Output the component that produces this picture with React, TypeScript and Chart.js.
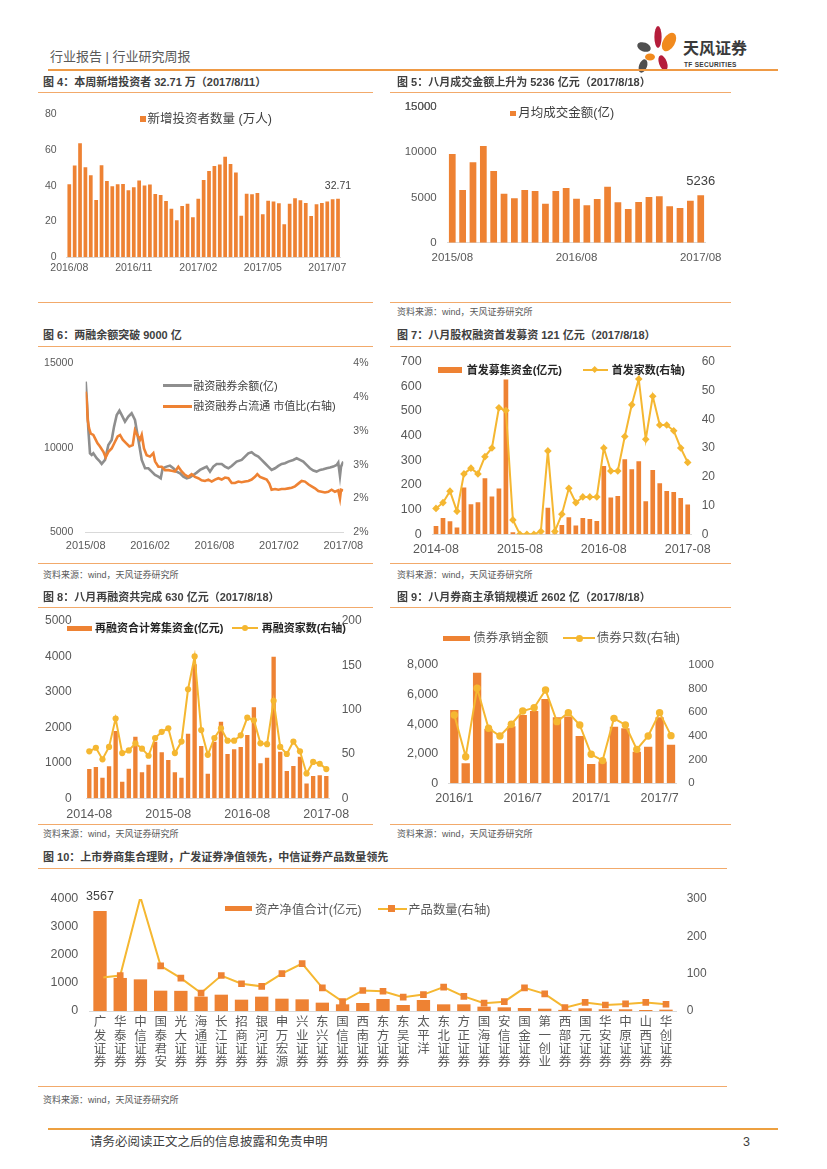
import React, { useEffect, useRef } from 'react';
import { Chart, registerables } from 'chart.js';

Chart.register(...registerables);

const FONT = "'Liberation Sans', Arial, 'Noto Sans CJK SC', sans-serif";
const BAR_COLOR = '#EE8233';
const LINE_COLOR = '#F5B731';
const GRAY_LINE = '#8E8E8E';
const TICK_COLOR = '#595959';
const AXIS_COLOR = '#D9D9D9';
const RULE_COLOR = '#F2AA6B';

// ---------------- helpers for category labels ----------------
function monthLabels(y0: number, m0: number, n: number, sep: string, pad: boolean): string[] {
  const out: string[] = [];
  for (let i = 0; i < n; i++) {
    const m = ((m0 - 1 + i) % 12) + 1;
    const y = y0 + Math.floor((m0 - 1 + i) / 12);
    out.push(`${y}${sep}${pad ? String(m).padStart(2, '0') : m}`);
  }
  return out;
}
function weekLabels(start: string, n: number): string[] {
  const out: string[] = [];
  const d0 = new Date(start + 'T00:00:00Z').getTime();
  for (let i = 0; i < n; i++) {
    const d = new Date(d0 + i * 7 * 86400000);
    out.push(`${d.getUTCFullYear()}/${String(d.getUTCMonth() + 1).padStart(2, '0')}/${String(d.getUTCDate()).padStart(2, '0')}`);
  }
  return out;
}

// ---------------- Fig 4 data ----------------
const fig4Weeks = weekLabels('2016-08-26', 51);
const fig4Investors = [
  40.9, 51.3, 63.8, 50.4, 45.9, 32.1, 51.5, 42.7, 39.7, 40.9, 41.0, 37.5, 39.2, 42.9, 40.1, 40.7, 35.4,
  34.9, 31.5, 27.2, 20.7, 28.7, 29.9, 22.4, 32.8, 43.3, 48.3, 51.1, 51.9, 56.2, 52.2, 47.4, 23.3, 35.6,
  35.3, 36.0, 24.1, 31.7, 31.2, 30.2, 18.5, 29.9, 33.0, 31.9, 30.4, 23.1, 29.7, 30.4, 31.2, 32.5, 32.71,
];
const fig4TickIdx = [0, 12, 24, 36, 48];
const fig4TickLabels = ['2016/08', '2016/11', '2017/02', '2017/05', '2017/07'];

// ---------------- Fig 5 data ----------------
const fig5Months = monthLabels(2015, 8, 25, '/', true);
const fig5Turnover = [
  9780, 5810, 8860, 10660, 7900, 5400, 4890, 5810, 5700, 4300, 5700, 6030, 4850, 4120, 4820, 6180, 4450,
  3710, 4490, 5040, 5110, 4010, 3820, 4630, 5236,
];
const fig5TickLabels = ['2015/08', '2016/08', '2017/08'];
const fig5YTicks = [0, 5000, 10000, 15000];

// ---------------- Fig 6 data (x = months since 2015/08) ----------------
const fig6TickLabels = ['2015/08', '2016/02', '2016/08', '2017/02', '2017/08'];
const fig6BalanceT = [
  0, 0.09, 0.25, 0.4, 0.56, 0.71, 1.02, 1.33, 1.49, 1.8, 2.11, 2.42, 2.64, 2.89, 3.14, 3.35, 3.66, 3.97,
  4.28, 4.59, 4.91, 5.22, 5.53, 5.84, 6.15, 6.46, 6.77, 6.99, 7.17, 7.54, 7.85, 8.17, 8.48, 8.79, 9.1,
  9.41, 9.72, 10.03, 10.34, 10.65, 10.96, 11.27, 11.58, 11.89, 12.2, 12.67, 12.98, 13.29, 13.6, 14.06,
  14.53, 14.84, 15.15, 15.46, 15.77, 16.08, 16.39, 16.7, 17.01, 17.32, 17.64, 17.95, 18.26, 18.57, 18.88,
  19.34, 19.65, 19.96, 20.27, 20.58, 20.89, 21.21, 21.51, 21.83, 22.14, 22.45, 22.76, 23.07, 23.38, 23.53,
  23.69, 23.79, 24.0,
];
const fig6Balance = [
  13915, 13028, 11055, 9675, 9576, 9675, 9380, 9183, 9045, 9281, 10168, 10464, 11252, 11943, 12200, 11943,
  11550, 11845, 12042, 11647, 10464, 9281, 8789, 8789, 8590, 8394, 8295, 8197, 8789, 8887, 8946, 8789, 8590,
  8492, 8295, 8197, 8256, 8394, 8532, 8690, 8789, 8887, 8590, 8887, 9045, 9045, 8887, 8789, 8926, 9183, 9281,
  9478, 9675, 9734, 9576, 9478, 9281, 9084, 8887, 8690, 8789, 8926, 9045, 9084, 9183, 9281, 9380, 9281, 9183,
  8985, 8789, 8651, 8591, 8690, 8729, 8789, 8828, 8887, 8985, 9124, 8335, 8887, 9183,
];
const fig6RatioT = [
  0, 0.09, 0.19, 0.31, 0.47, 0.71, 0.87, 1.09, 1.33, 1.65, 1.86, 2.11, 2.42, 2.73, 2.98, 3.2, 3.45, 3.76,
  4.07, 4.38, 4.59, 4.81, 5.06, 5.22, 5.43, 5.68, 5.99, 6.3, 6.46, 6.77, 7.08, 7.39, 7.7, 8.01, 8.32, 8.63,
  8.94, 9.25, 9.56, 9.87, 10.18, 10.49, 10.8, 11.11, 11.43, 11.74, 12.05, 12.36, 12.67, 12.98, 13.29, 13.6,
  13.91, 14.22, 14.53, 14.84, 15.15, 15.46, 15.77, 15.99, 16.24, 16.55, 16.86, 17.11, 17.32, 17.64, 17.95,
  18.26, 18.57, 18.88, 19.19, 19.5, 19.81, 20.12, 20.43, 20.74, 21.05, 21.36, 21.67, 21.98, 22.29, 22.6,
  22.91, 23.22, 23.53, 23.69, 23.79, 24.0,
];
const fig6Ratio = [
  3.58, 3.46, 3.16, 3.04, 2.96, 2.94, 2.89, 2.82, 2.77, 2.69, 2.61, 2.69, 2.74, 2.84, 2.92, 2.94, 2.87, 2.82,
  2.77, 2.79, 3.01, 2.94, 2.87, 2.94, 2.74, 2.64, 2.62, 2.67, 2.55, 2.47, 2.47, 2.42, 2.42, 2.41, 2.4, 2.47,
  2.4, 2.35, 2.32, 2.36, 2.32, 2.3, 2.27, 2.26, 2.28, 2.25, 2.28, 2.3, 2.28, 2.31, 2.3, 2.23, 2.23, 2.25, 2.24,
  2.25, 2.26, 2.28, 2.32, 2.36, 2.32, 2.3, 2.28, 2.22, 2.13, 2.14, 2.13, 2.14, 2.14, 2.15, 2.16, 2.18, 2.22,
  2.26, 2.25, 2.21, 2.18, 2.15, 2.11, 2.1, 2.09, 2.1, 2.13, 2.1, 2.12, 2.0, 2.13, 2.12,
];

// ---------------- Fig 7 data ----------------
const fig7Months = monthLabels(2014, 8, 37, '-', true);
const fig7IpoAmount = [
  34, 66, 53, 28, 190, 122, 130, 227, 153, 186, 628, 8, 0, 0, 0, 2, 108, 4, 38, 69, 36, 66, 62, 54, 277,
  149, 155, 304, 264, 296, 134, 261, 207, 176, 172, 147, 121,
];
const fig7IpoCount = [
  9, 11, 15, 8, 21, 23, 21, 27, 30, 44, 43, 5, 0, 0, 0, 1, 29, 1, 7, 16, 11, 13, 13, 13, 30, 22, 22, 34, 45,
  54, 33, 48, 38, 38, 36, 30, 25,
];
const fig7TickLabels = ['2014-08', '2015-08', '2016-08', '2017-08'];

// ---------------- Fig 8 data ----------------
const fig8Months = monthLabels(2014, 8, 37, '-', true);
const fig8RefiAmount = [
  827, 883, 583, 902, 1898, 470, 836, 1739, 733, 949, 1598, 1297, 1081, 733, 583, 1823, 3780, 1476, 695,
  1598, 2162, 1250, 1381, 1447, 1786, 2566, 987, 1147, 3994, 1316, 771, 912, 1175, 414, 630, 649, 630,
];
const fig8RefiCount = [
  53, 57, 44, 58, 90, 51, 54, 62, 56, 48, 68, 75, 79, 51, 64, 123, 160, 77, 49, 68, 79, 65, 65, 71, 91, 88,
  62, 61, 110, 58, 50, 64, 53, 28, 41, 39, 33,
];
const fig8TickLabels = ['2014-08', '2015-08', '2016-08', '2017-08'];

// ---------------- Fig 9 data ----------------
const fig9Months = monthLabels(2016, 1, 20, '/', false);
const fig9BondAmount = [
  4950, 1350, 7480, 3670, 2700, 3850, 4620, 4890, 5700, 4460, 4510, 3200, 1310, 1470, 3830, 3720, 2140,
  2480, 4460, 2602,
];
const fig9BondCount = [
  577, 225, 803, 465, 400, 499, 611, 639, 789, 521, 597, 493, 245, 192, 549, 493, 287, 400, 597, 403,
];
const fig9TickLabels = ['2016/1', '2016/7', '2017/1', '2017/7'];

// ---------------- Fig 10 data ----------------
const fig10Brokers = [
  '广发证券', '华泰证券', '中信证券', '国泰君安', '光大证券', '海通证券', '长江证券', '招商证券', '银河证券',
  '申万宏源', '兴业证券', '东兴证券', '国信证券', '西南证券', '东方证券', '东吴证券', '太平洋', '东北证券',
  '方正证券', '国海证券', '安信证券', '国金证券', '第一创业', '西部证券', '国元证券', '华安证券', '中原证券',
  '山西证券', '华创证券',
];
const fig10NetValue = [
  3567, 1180, 1130, 726, 720, 512, 583, 405, 512, 440, 417, 298, 238, 286, 429, 214, 393, 238, 238, 155, 131,
  107, 83, 40, 95, 60, 60, 36, 48,
];
const fig10Products = [
  89, 95, 305, 121, 88, 48, 95, 73, 66, 100, 127, 62, 25, 55, 53, 37, 44, 64, 39, 21, 25, 62, 46, 9, 23, 16,
  19, 23, 18,
];
const fig10RightMax = 300;

// ---------------- layout helpers ----------------
type Box = { x: number; y: number; w: number; h: number };
type Plot = { l: number; r: number; t: number; b: number };

function baseOptions(box: Box, plot: Plot, hasRight: boolean): any {
  return {
    responsive: false,
    maintainAspectRatio: false,
    animation: false,
    events: [],
    layout: {
      padding: { left: 0, bottom: 0, top: plot.t - box.y, right: hasRight ? 0 : box.x + box.w - plot.r },
    },
    plugins: { legend: { display: false }, tooltip: { enabled: false }, title: { display: false } },
  };
}

function yScale(side: 'left' | 'right', box: Box, plot: Plot, min: number, max: number, step: number, size: number, pad: number, fmt?: (v: any) => string, forced?: number[]): any {
  const s: any = {
    type: 'linear',
    position: side,
    min,
    max,
    grid: { display: false, drawTicks: false },
    border: { display: false },
    ticks: {
      stepSize: step,
      autoSkip: false,
      color: TICK_COLOR,
      font: { family: FONT, size },
      padding: pad,
      callback: fmt || ((v: any) => String(v)),
    },
    afterFit: (sc: any) => {
      sc.width = side === 'left' ? plot.l - box.x : box.x + box.w - plot.r;
    },
  };
  if (forced) {
    s.afterBuildTicks = (sc: any) => {
      sc.ticks = forced.map((v) => ({ value: v }));
    };
  }
  return s;
}

function xScale(box: Box, plot: Plot, size: number, pad: number, cb: (v: any, i: number) => any, lineHeight = 1.2): any {
  return {
    type: 'category',
    grid: { display: false, drawTicks: false },
    border: { display: true, color: AXIS_COLOR, width: 1 },
    ticks: {
      autoSkip: false,
      maxRotation: 0,
      minRotation: 0,
      color: TICK_COLOR,
      font: { family: FONT, size, lineHeight },
      padding: pad,
      callback: cb,
    },
    afterFit: (s: any) => {
      s.height = box.y + box.h - plot.b;
    },
  };
}

function valueLabel(index: number, text: string, size: number, offset: number): any {
  return {
    id: 'valueLabel',
    afterDatasetsDraw(chart: any) {
      const el = chart.getDatasetMeta(0).data[index];
      if (!el) return;
      const ctx = chart.ctx;
      ctx.save();
      ctx.font = `${size}px ${FONT}`;
      ctx.fillStyle = '#404040';
      ctx.textAlign = 'center';
      ctx.textBaseline = 'middle';
      ctx.fillText(text, el.x, el.y - offset);
      ctx.restore();
    },
  };
}

// re-draws the y-axis tick labels (guards against a missing top label)
function yTickText(size: number, pad: number): any {
  return {
    id: 'yTickText',
    afterDraw(chart: any) {
      const s = chart.scales.y;
      if (!s) return;
      const ctx = chart.ctx;
      ctx.save();
      ctx.font = `${size}px ${FONT}`;
      ctx.fillStyle = TICK_COLOR;
      ctx.textAlign = 'right';
      ctx.textBaseline = 'middle';
      const top = s.ticks[s.ticks.length - 1];
      if (top) ctx.fillText(String(top.label ?? top.value), s.right - pad, s.getPixelForValue(top.value));
      ctx.restore();
    },
  };
}

const labelIf = (cats: string[], shown: string[]) => (_v: any, i: number) => (shown.includes(cats[i]) ? cats[i] : '');

// ---------------- chart boxes (top leaves room for tick padding) ----------------
const fig4Box: Box = { x: 40, y: 97, w: 345, h: 193 };
const fig4Plot: Plot = { l: 66.6, r: 340.7, t: 114.3, b: 257.3 };
const fig5Box: Box = { x: 390, y: 88, w: 345, h: 202 };
const fig5Plot: Plot = { l: 447.1, r: 705.9, t: 106.7, b: 242.7 };
const fig6Box: Box = { x: 40, y: 343, w: 345, h: 217 };
const fig6Plot: Plot = { l: 85.7, r: 343.3, t: 363.3, b: 532.3 };
const fig7Box: Box = { x: 390, y: 342, w: 345, h: 218 };
const fig7Plot: Plot = { l: 432.5, r: 691.2, t: 361.7, b: 534.3 };
const fig8Box: Box = { x: 40, y: 598, w: 345, h: 226 };
const fig8Plot: Plot = { l: 86.0, r: 329.6, t: 621, b: 798.3 };
const fig9Box: Box = { x: 390, y: 612, w: 345, h: 210 };
const fig9Plot: Plot = { l: 448.6, r: 676.7, t: 665, b: 783.3 };
const fig10Box: Box = { x: 40, y: 874, w: 690, h: 210 };
const fig10Plot: Plot = { l: 89.9, r: 676.1, t: 899, b: 1011 };

// ---------------- chart configs ----------------
function fig4Config(): any {
  const o = baseOptions(fig4Box, fig4Plot, false);
  o.scales = {
    x: xScale(fig4Box, fig4Plot, 10.5, 4.7, (_v: any, i: number) => {
      const k = fig4TickIdx.indexOf(i);
      return k < 0 ? '' : fig4TickLabels[k];
    }),
    y: yScale('left', fig4Box, fig4Plot, 0, 80, 20, 10.5, 10),
  };
  return {
    type: 'bar',
    data: {
      labels: fig4Weeks,
      datasets: [{ data: fig4Investors, backgroundColor: BAR_COLOR, barPercentage: 0.69, categoryPercentage: 1 }],
    },
    options: o,
    plugins: [valueLabel(fig4Investors.length - 1, String(fig4Investors[fig4Investors.length - 1]), 10.5, 13)],
  };
}

function fig5Config(): any {
  const o = baseOptions(fig5Box, fig5Plot, false);
  o.scales = {
    x: xScale(fig5Box, fig5Plot, 11.5, 8.7, labelIf(fig5Months, fig5TickLabels)),
    y: yScale('left', fig5Box, fig5Plot, 0, 15000, 5000, 11.5, 10.4, undefined, fig5YTicks),
  };
  return {
    type: 'bar',
    data: {
      labels: fig5Months,
      datasets: [{ data: fig5Turnover, backgroundColor: BAR_COLOR, barPercentage: 0.65, categoryPercentage: 1 }],
    },
    options: o,
    plugins: [
      valueLabel(fig5Turnover.length - 1, String(fig5Turnover[fig5Turnover.length - 1]), 13, 14),
      yTickText(11.5, 10.4),
    ],
  };
}

function fig6Config(): any {
  const o = baseOptions(fig6Box, fig6Plot, true);
  const x = xScale(fig6Box, fig6Plot, 11, 7.1, (v: any) => {
    const k = Math.round(Number(v) / 6);
    return Number(v) % 6 === 0 ? fig6TickLabels[k] : '';
  });
  x.type = 'linear';
  x.min = 0;
  x.max = 24;
  x.ticks.stepSize = 6;
  o.scales = {
    x,
    y: yScale('left', fig6Box, fig6Plot, 5000, 15000, 5000, 10.5, 12.4),
    y1: yScale('right', fig6Box, fig6Plot, 1.5, 4, 0.5, 10.5, 10, (v: any) => Math.round(Number(v)) + '%'),
  };
  return {
    type: 'line',
    data: {
      datasets: [
        {
          data: fig6BalanceT.map((t, i) => ({ x: t, y: fig6Balance[i] })),
          yAxisID: 'y',
          borderColor: GRAY_LINE,
          borderWidth: 2.6,
          pointRadius: 0,
          tension: 0,
          order: 1,
        },
        {
          data: fig6RatioT.map((t, i) => ({ x: t, y: fig6Ratio[i] })),
          yAxisID: 'y1',
          borderColor: BAR_COLOR,
          borderWidth: 2.6,
          pointRadius: 0,
          tension: 0,
          order: 0,
        },
      ],
    },
    options: o,
  };
}

function comboConfig(
  box: Box,
  plot: Plot,
  labels: string[],
  bars: number[],
  line: number[],
  barPct: number,
  xCb: (v: any, i: number) => any,
  xSize: number,
  xPad: number,
  left: [number, number, number, number, number, ((v: any) => string)?],
  right: [number, number, number, number, number],
  point: any,
  extraPlugins: any[] = [],
  xLineHeight = 1.2,
): any {
  const o = baseOptions(box, plot, true);
  o.scales = {
    x: xScale(box, plot, xSize, xPad, xCb, xLineHeight),
    y: yScale('left', box, plot, left[0], left[1], left[2], left[3], left[4], left[5]),
    y1: yScale('right', box, plot, right[0], right[1], right[2], right[3], right[4]),
  };
  return {
    type: 'bar',
    data: {
      labels,
      datasets: [
        { type: 'bar', data: bars, yAxisID: 'y', backgroundColor: BAR_COLOR, barPercentage: barPct, categoryPercentage: 1, order: 1 },
        {
          type: 'line',
          data: line,
          yAxisID: 'y1',
          borderColor: LINE_COLOR,
          backgroundColor: LINE_COLOR,
          borderWidth: 2,
          tension: 0,
          pointBorderWidth: 0,
          order: 0,
          ...point,
        },
      ],
    },
    options: o,
    plugins: extraPlugins,
  };
}

const fig7Config = () =>
  comboConfig(fig7Box, fig7Plot, fig7Months, fig7IpoAmount, fig7IpoCount, 0.67, labelIf(fig7Months, fig7TickLabels), 12.5, 8.2,
    [0, 700, 100, 12.5, 10.8], [0, 60, 10, 12, 10.5],
    { pointStyle: 'rectRot', pointRadius: 3.8, pointBackgroundColor: LINE_COLOR });

const fig8Config = () =>
  comboConfig(fig8Box, fig8Plot, fig8Months, fig8RefiAmount, fig8RefiCount, 0.66, labelIf(fig8Months, fig8TickLabels), 12.5, 8.5,
    [0, 5000, 1000, 12, 14.3], [0, 200, 50, 12, 12.1],
    { pointStyle: 'circle', pointRadius: 3.1, pointBackgroundColor: LINE_COLOR });

const fig9Config = () =>
  comboConfig(fig9Box, fig9Plot, fig9Months, fig9BondAmount, fig9BondCount, 0.73, labelIf(fig9Months, fig9TickLabels), 12.5, 7.5,
    [0, 8000, 2000, 12.5, 10.3, (v: any) => Number(v).toLocaleString('en-US')], [0, 1000, 200, 11.5, 11.6],
    { pointStyle: 'circle', pointRadius: 3.7, pointBackgroundColor: LINE_COLOR });

const fig10Config = () =>
  comboConfig(fig10Box, fig10Plot, fig10Brokers, fig10NetValue, fig10Products, 0.66, (_v: any, i: number) => fig10Brokers[i].split(''), 12.5, 5.3,
    [0, 4000, 1000, 12.5, 11.6], [0, fig10RightMax, 100, 12, 10.6],
    {
      pointStyle: 'rect',
      pointRadius: (c: any) => (c.raw > fig10RightMax ? 0 : 4.7),
      pointBackgroundColor: BAR_COLOR,
    },
    [valueLabel(0, String(fig10NetValue[0]), 12.5, 14.3)],
    1.064);

// ---------------- components ----------------
function ChartCanvas({ box, make }: { box: Box; make: () => any }) {
  const ref = useRef<HTMLCanvasElement>(null);
  useEffect(() => {
    const chart = new Chart(ref.current as HTMLCanvasElement, make());
    return () => chart.destroy();
  }, []);
  return (
    <div style={{ position: 'absolute', left: box.x, top: box.y, width: box.w, height: box.h }}>
      <canvas ref={ref} width={box.w} height={box.h} style={{ display: 'block', width: box.w, height: box.h }} />
    </div>
  );
}

function Txt(props: { x: number; y: number; size: number; color?: string; weight?: number; children: any; spacing?: number }) {
  return (
    <div
      style={{
        position: 'absolute',
        left: props.x,
        top: props.y,
        transform: 'translateY(-50%)',
        fontSize: props.size,
        color: props.color || '#404040',
        fontWeight: props.weight || 400,
        fontFamily: FONT,
        lineHeight: 1.15,
        whiteSpace: 'pre',
        letterSpacing: props.spacing || 0,
      }}
    >
      {props.children}
    </div>
  );
}

function Rect(props: { x: number; y: number; w: number; h: number; color: string; radius?: string; rotate?: number }) {
  return (
    <div
      style={{
        position: 'absolute',
        left: props.x,
        top: props.y,
        width: props.w,
        height: props.h,
        background: props.color,
        borderRadius: props.radius || 0,
        transform: props.rotate ? `rotate(${props.rotate}deg)` : undefined,
      }}
    />
  );
}

function HLine({ x1, x2, y, color = RULE_COLOR, h = 1 }: { x1: number; x2: number; y: number; color?: string; h?: number }) {
  return <Rect x={x1} y={y} w={x2 - x1} h={h} color={color} />;
}

const SOURCE = '资料来源：wind，天风证券研究所';

export default function App() {
  return (
    <div style={{ position: 'absolute', left: 0, top: 0, width: 827, height: 1169, background: '#fff', overflow: 'hidden', fontFamily: FONT }}>
      {/* charts */}
      <ChartCanvas box={fig4Box} make={fig4Config} />
      <ChartCanvas box={fig5Box} make={fig5Config} />
      <ChartCanvas box={fig6Box} make={fig6Config} />
      <ChartCanvas box={fig7Box} make={fig7Config} />
      <ChartCanvas box={fig8Box} make={fig8Config} />
      <ChartCanvas box={fig9Box} make={fig9Config} />
      <ChartCanvas box={fig10Box} make={fig10Config} />

      {/* header */}
      <Txt x={50} y={57} size={13} color="#595959">{'行业报告 | 行业研究周报'}</Txt>
      <svg style={{ position: 'absolute', left: 632, top: 24 }} width={50} height={50} viewBox="0 0 50 50">
        <ellipse cx={26} cy={13} rx={3.6} ry={11} fill="#B51D3B" />
        <ellipse cx={37} cy={18} rx={6} ry={10} fill="#F18A1E" transform="rotate(30 37 18)" />
        <ellipse cx={12} cy={23} rx={7} ry={4.5} fill="#4F4F4F" transform="rotate(20 12 23)" />
        <ellipse cx={18} cy={33} rx={5} ry={3.5} fill="#F18A1E" />
        <ellipse cx={11} cy={42} rx={4} ry={7} fill="#4F4F4F" transform="rotate(20 11 42)" />
        <ellipse cx={31} cy={39} rx={4} ry={8} fill="#B51D3B" transform="rotate(-20 31 39)" />
      </svg>
      <Txt x={683} y={49} size={16} weight={700} color="#3A3A3A">天风证券</Txt>
      <Txt x={684} y={64.5} size={6.5} weight={700} color="#3A3A3A" spacing={0.3}>TF SECURITIES</Txt>
      <HLine x1={48} x2={778} y={69} color="#EF9A45" h={2} />

      {/* titles & rules */}
      <Txt x={43} y={82} size={11} weight={700}>图 4：本周新增投资者 32.71 万（2017/8/11）</Txt>
      <Txt x={397} y={82} size={11} weight={700}>图 5：八月成交金额上升为 5236 亿元（2017/8/18）</Txt>
      <HLine x1={38} x2={373} y={92} />
      <HLine x1={390} x2={731} y={92} />
      <HLine x1={38} x2={373} y={302} />
      <HLine x1={390} x2={731} y={302} />
      <Txt x={397} y={312} size={9} color="#595959">{SOURCE}</Txt>

      <Txt x={43} y={335} size={11} weight={700}>图 6：两融余额突破 9000 亿</Txt>
      <Txt x={397} y={335} size={11} weight={700}>图 7：八月股权融资首发募资 121 亿元（2017/8/18）</Txt>
      <HLine x1={38} x2={373} y={346} />
      <HLine x1={390} x2={731} y={346} />
      <HLine x1={38} x2={373} y={563} />
      <HLine x1={390} x2={731} y={563} />
      <Txt x={43} y={575} size={9} color="#595959">{SOURCE}</Txt>
      <Txt x={397} y={575} size={9} color="#595959">{SOURCE}</Txt>

      <Txt x={43} y={597} size={11} weight={700}>图 8：八月再融资共完成 630 亿元（2017/8/18）</Txt>
      <Txt x={397} y={597} size={11} weight={700}>图 9：八月券商主承销规模近 2602 亿（2017/8/18）</Txt>
      <HLine x1={38} x2={373} y={607} />
      <HLine x1={390} x2={731} y={607} />
      <HLine x1={38} x2={373} y={824} />
      <HLine x1={390} x2={731} y={824} />
      <Txt x={43} y={834} size={9} color="#595959">{SOURCE}</Txt>
      <Txt x={397} y={834} size={9} color="#595959">{SOURCE}</Txt>

      <Txt x={43} y={857} size={11} weight={700}>图 10：上市券商集合理财，广发证券净值领先，中信证券产品数量领先</Txt>
      <HLine x1={38} x2={727} y={868} />
      <HLine x1={38} x2={727} y={1086} />
      <Txt x={43} y={1100} size={9} color="#595959">{SOURCE}</Txt>

      {/* legends */}
      <Rect x={140} y={116} w={6} h={6} color={BAR_COLOR} />
      <Txt x={147.5} y={119} size={12.5}>新增投资者数量 (万人)</Txt>

      <Rect x={510} y={110.7} w={5.5} h={5.5} color={BAR_COLOR} />
      <Txt x={518.3} y={113.3} size={12.5}>月均成交金额(亿)</Txt>

      <Rect x={163.3} y={384.3} w={28.4} h={3} color={GRAY_LINE} />
      <Txt x={193.3} y={385.7} size={11}>融资融券余额(亿)</Txt>
      <Rect x={163.3} y={404.5} w={28.4} h={3} color={BAR_COLOR} />
      <Txt x={193.3} y={406} size={11}>融资融券占流通 市值比(右轴)</Txt>

      <Rect x={438.3} y={367.3} w={23.4} h={5.4} color={BAR_COLOR} />
      <Txt x={466.7} y={370} size={11} weight={700} color="#262626">首发募集资金(亿元)</Txt>
      <Rect x={582.7} y={369} w={25.6} h={2} color={LINE_COLOR} />
      <Rect x={592.3} y={367.3} w={5.4} h={5.4} color={LINE_COLOR} rotate={45} />
      <Txt x={611.7} y={370} size={11} weight={700} color="#262626">首发家数(右轴)</Txt>

      <Rect x={66.7} y={625.7} w={25} h={5.2} color={BAR_COLOR} />
      <Txt x={95} y={628.3} size={11} weight={700} color="#262626">再融资合计筹集资金(亿元)</Txt>
      <Rect x={231.7} y={627.3} w={26.6} h={2} color={LINE_COLOR} />
      <Rect x={242} y={625.3} w={6.2} h={6.2} color={LINE_COLOR} radius="50%" />
      <Txt x={261.7} y={628.3} size={11} weight={700} color="#262626">再融资家数(右轴)</Txt>

      <Rect x={443.3} y={635.7} w={26.7} h={5.3} color={BAR_COLOR} />
      <Txt x={473.3} y={638.3} size={12.5} color="#595959">债券承销金额</Txt>
      <Rect x={563.3} y={637.3} w={31.7} h={2} color={LINE_COLOR} />
      <Rect x={575.6} y={634.6} w={7.4} h={7.4} color={LINE_COLOR} radius="50%" />
      <Txt x={596.7} y={638.3} size={12.5} color="#595959">债券只数(右轴)</Txt>

      <Rect x={225} y={905.7} w={26.7} h={5.3} color={BAR_COLOR} />
      <Txt x={255} y={909.5} size={12.3} color="#595959">资产净值合计(亿元)</Txt>
      <Rect x={378.3} y={907.5} w={28.4} h={2} color={LINE_COLOR} />
      <Rect x={388.4} y={905.2} w={6.7} h={6.7} color={BAR_COLOR} />
      <Txt x={408.3} y={909.5} size={12.3} color="#595959">产品数量(右轴)</Txt>

      {/* footer */}
      <HLine x1={48} x2={778} y={1128} color="#EDA040" h={2} />
      <Txt x={90} y={1142} size={12.5} color="#404040">请务必阅读正文之后的信息披露和免责申明</Txt>
      <Txt x={743} y={1142} size={12.5} color="#404040">3</Txt>
    </div>
  );
}
